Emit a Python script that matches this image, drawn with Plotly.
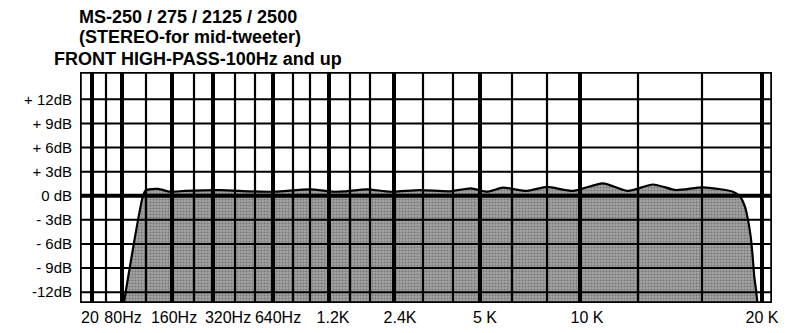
import plotly.graph_objects as go

# ---- data (x = position along the chart paper's own frequency scale) ----
freq_labels = ["20", "80Hz", "160Hz", "320Hz", "640Hz", "1.2K", "2.4K", "5 K", "10 K", "20 K"]
freq_pos = [10, 43, 94, 148, 198, 253, 320, 405, 507, 682]
db_ticks = [12, 9, 6, 3, 0, -3, -6, -9, -12]
db_labels = ["+ 12dB", "+ 9dB", "+ 6dB", "+ 3dB", "0 dB", "- 3dB", "- 6dB", "- 9dB", "-12dB"]
major_grid = [12, 42, 92, 133, 193, 249, 314, 400, 500, 682]
minor_grid = [26, 66, 114, 155, 175, 213, 230, 270, 290, 343, 373, 432, 467, 558, 622]

curve_pos = [43, 63, 66, 78, 90, 105, 140, 170, 195, 230, 253, 265, 287, 310, 340, 370,
             391, 407, 423, 447, 467, 493, 523, 548, 573, 596, 623, 653, 660, 665, 668,
             670.7, 672.7, 674.3, 676, 678]
curve_db = [-14, 0.0, 0.7, 0.85, 0.5, 0.6, 0.7, 0.55, 0.5, 0.8, 0.5, 0.55, 0.8, 0.5, 0.7, 0.55,
            0.92, 0.5, 1.0, 0.6, 1.1, 0.6, 1.55, 0.6, 1.4, 0.7, 1.05, 0.5, -0.1, -1.4, -3.0,
            -5.1, -7.6, -10.1, -11.7, -14]

title_lines = ["MS-250 / 275 / 2125 / 2500",
               "(STEREO-for mid-tweeter)",
               "FRONT HIGH-PASS-100Hz and up"]

X_MAX = 692
Y_MIN, Y_MAX = -13.35, 15.4
FONT = "Liberation Sans, Arial, sans-serif"

fig = go.Figure()
fig.add_trace(go.Scatter(
    x=curve_pos, y=curve_db, mode="lines", fill="toself",
    line=dict(color="black", width=2.2, shape="spline", smoothing=0.6),
    fillcolor="#9a9a9a",
    fillpattern=dict(shape=".", fgcolor="#4a4a4a", bgcolor="#a4a4a4", size=3, solidity=0.4),
    hoverinfo="skip", showlegend=False,
))

shapes = []
for g in major_grid:
    shapes.append(dict(type="line", x0=g, x1=g, y0=Y_MIN, y1=Y_MAX, xref="x", yref="y",
                       line=dict(color="black", width=4), layer="above"))
for g in minor_grid:
    shapes.append(dict(type="line", x0=g, x1=g, y0=Y_MIN, y1=Y_MAX, xref="x", yref="y",
                       line=dict(color="black", width=2.2), layer="above"))
for d in db_ticks:
    shapes.append(dict(type="line", x0=0, x1=X_MAX, y0=d, y1=d, xref="x", yref="y",
                       line=dict(color="black", width=4 if d == 0 else 2), layer="above"))
shapes.append(dict(type="rect", x0=0, x1=X_MAX, y0=Y_MIN, y1=Y_MAX, xref="x", yref="y",
                   line=dict(color="black", width=3.5), layer="above"))

annotations = []
title_x_px = [77, 77, 52]
title_y_px = [17, 37, 59]
for t, xp, yp in zip(title_lines, title_x_px, title_y_px):
    annotations.append(dict(
        text=f"<b>{t}</b>", x=(xp - 80) / 692, y=(303 - yp) / 231, xref="paper", yref="paper",
        xanchor="left", yanchor="middle", showarrow=False,
        font=dict(family=FONT, size=18, color="black")))

# the page body adds an 8px offset; the figure is sized so the plot area lands at 80..772 x 72..303
fig.update_layout(
    width=786, height=325,
    margin=dict(l=72, r=22, t=64, b=30, autoexpand=False),
    paper_bgcolor="white", plot_bgcolor="white",
    shapes=shapes, annotations=annotations,
    xaxis=dict(range=[0, X_MAX], showgrid=False, zeroline=False, showline=False,
               tickmode="array", tickvals=freq_pos, ticktext=freq_labels, ticks="",
               ticklabelstandoff=3, tickangle=0, automargin=False,
               tickfont=dict(family=FONT, size=16, color="black")),
    yaxis=dict(range=[Y_MIN, Y_MAX], showgrid=False, zeroline=False, showline=False,
               tickmode="array", tickvals=db_ticks, ticktext=db_labels, ticks="",
               ticklabelstandoff=7, automargin=False,
               tickfont=dict(family=FONT, size=15, color="black")),
)

fig.write_html("out.html")
